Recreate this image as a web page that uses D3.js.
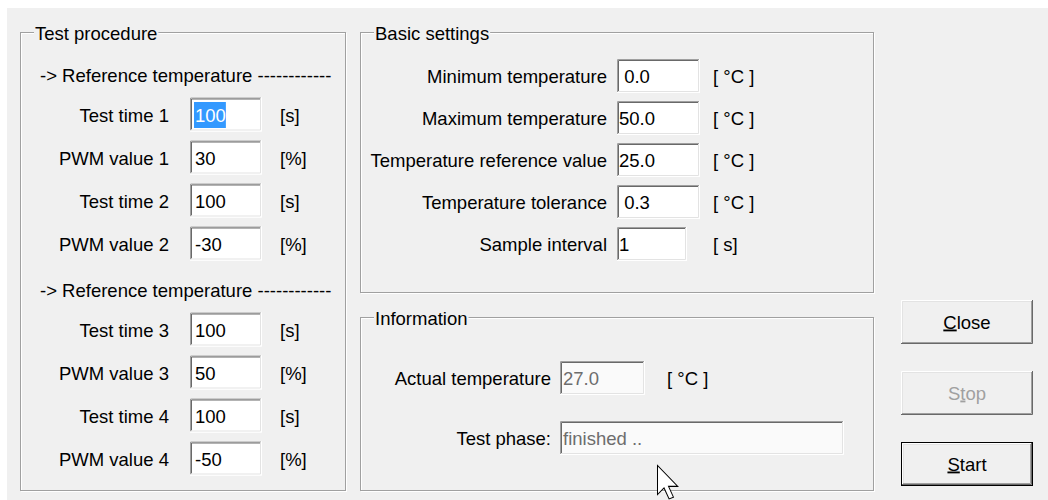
<!DOCTYPE html>
<html>
<head>
<meta charset="utf-8">
<script src="https://cdn.jsdelivr.net/npm/d3@7"></script>
<style>
  body { margin: 0; background: #fff; }
  text { font-family: "Liberation Sans", Arial, sans-serif; font-size: 18.5px; fill: #000; }
</style>
</head>
<body>
<div id="container"></div>
<script>
// dialog content
const procedureHeaders = ['-> Reference temperature ------------', '-> Reference temperature ------------'];
const procedureLabels = ['Test time 1', 'PWM value 1', 'Test time 2', 'PWM value 2', 'Test time 3', 'PWM value 3', 'Test time 4', 'PWM value 4'];
const procedureValues = ['100', '30', '100', '-30', '100', '50', '100', '-50'];
const procedureUnits = ['[s]', '[%]', '[s]', '[%]', '[s]', '[%]', '[s]', '[%]'];
const selectedField = 0;

const basicLabels = ['Minimum temperature', 'Maximum temperature', 'Temperature reference value', 'Temperature tolerance', 'Sample interval'];
const basicValues = [' 0.0', '50.0', '25.0', ' 0.3', '1'];
const basicUnits = ['[ °C ]', '[ °C ]', '[ °C ]', '[ °C ]', '[ s]'];

const infoLabels = ['Actual temperature', 'Test phase:'];
const infoValues = ['27.0', 'finished ..'];
const infoUnits = ['[ °C ]', ''];

const buttonLabels = ['Close', 'Stop', 'Start'];
const buttonMnemonic = [0, 1, 0];
const buttonEnabled = [true, false, true];
const defaultButton = 2;

const width = 1048;
const height = 500;
const bg = '#f0f0f0';

const svg = d3.select('#container')
  .append('svg')
  .attr('width', width)
  .attr('height', height);

svg.append('rect')
  .attr('x', 7).attr('y', 8)
  .attr('width', width - 7).attr('height', height - 8)
  .attr('fill', bg);

function line(g, d, color) {
  g.append('path').attr('d', d).attr('fill', 'none')
    .attr('stroke', color).attr('stroke-width', 1);
}

// keep leading blanks of edit-box values visible
function label(g, x, cy, str, anchor, color) {
  return g.append('text')
    .attr('x', x).attr('y', cy + 6.5)
    .attr('text-anchor', anchor || 'start')
    .style('fill', color || '#000')
    .text(str.replace(/ /g, '\u00a0'));
}

function sunken(g, x, y, w, h, fill) {
  g.append('rect').attr('x', x).attr('y', y).attr('width', w).attr('height', h).attr('fill', fill);
  line(g, `M${x + 0.5},${y + h - 1} V${y + 0.5} H${x + w - 1}`, '#a0a0a0');
  line(g, `M${x + 1.5},${y + h - 2} V${y + 1.5} H${x + w - 2}`, '#696969');
  line(g, `M${x},${y + h - 0.5} H${x + w - 0.5} V${y}`, '#ffffff');
  line(g, `M${x + 1},${y + h - 1.5} H${x + w - 1.5} V${y + 1}`, '#e3e3e3');
}

function raised(g, x, y, w, h, isDefault) {
  g.append('rect').attr('x', x).attr('y', y).attr('width', w).attr('height', h).attr('fill', bg);
  if (isDefault) {
    g.append('rect').attr('x', x + 0.5).attr('y', y + 0.5).attr('width', w - 1).attr('height', h - 1)
      .attr('fill', 'none').attr('stroke', '#000');
    x += 1; y += 1; w -= 2; h -= 2;
  }
  line(g, `M${x + 0.5},${y + h - 1} V${y + 0.5} H${x + w - 1}`, '#ffffff');
  line(g, `M${x + 1.5},${y + h - 2} V${y + 1.5} H${x + w - 2}`, '#e3e3e3');
  line(g, `M${x},${y + h - 0.5} H${x + w - 0.5} V${y}`, '#696969');
  line(g, `M${x + 1},${y + h - 1.5} H${x + w - 1.5} V${y + 1}`, '#a0a0a0');
}

function groupBox(x, y, w, h, title) {
  const g = svg.append('g');
  g.append('rect').attr('x', x + 1.5).attr('y', y + 1.5).attr('width', w - 1).attr('height', h - 1)
    .attr('fill', 'none').attr('stroke', '#ffffff');
  g.append('rect').attr('x', x + 0.5).attr('y', y + 0.5).attr('width', w - 1).attr('height', h - 1)
    .attr('fill', 'none').attr('stroke', '#a0a0a0');
  const gap = g.append('rect').attr('y', y - 2).attr('height', 6).attr('fill', bg);
  const t = label(g, x + 15, y + 1, title);
  gap.attr('x', x + 14).attr('width', t.node().getComputedTextLength() + 2);
  return g;
}

// Test procedure
const gp = groupBox(20, 32, 326, 459, 'Test procedure');
const procKeys = ['h0', 0, 1, 2, 3, 'h1', 4, 5, 6, 7];
const procY = d3.scalePoint().domain(procKeys).range([72, 459]);

procedureHeaders.forEach((h, i) => label(gp, 40, procY('h' + i) + 3, h));

procedureLabels.forEach((lab, i) => {
  const cy = procY(i);
  label(gp, 169, cy, lab, 'end');
  sunken(gp, 190, cy - 17.5, 72, 34, '#fff');
  const t = label(gp, 195, cy, procedureValues[i]);
  if (i === selectedField) {
    const w = t.node().getComputedTextLength();
    gp.insert('rect', () => t.node())
      .attr('x', 194).attr('y', cy - 13).attr('width', w + 1).attr('height', 26)
      .attr('fill', '#3399ff');
    t.style('fill', '#fff');
  }
  label(gp, 280, cy, procedureUnits[i]);
});

// Basic settings
const gb = groupBox(360, 32, 514, 261, 'Basic settings');
const basicY = d3.scalePoint().domain(d3.range(basicLabels.length)).range([76, 244]);
basicLabels.forEach((lab, i) => {
  const cy = basicY(i);
  label(gb, 607, cy, lab, 'end');
  const w = basicUnits[i] === '[ s]' ? 70 : 83;
  sunken(gb, 617, cy - 17, w, 34, '#fff');
  label(gb, 619, cy, basicValues[i]);
  label(gb, 713, cy, basicUnits[i]);
});

// Information
const gi = groupBox(360, 317, 514, 174, 'Information');
const infoY = d3.scalePoint().domain(d3.range(infoLabels.length)).range([378, 438]);
infoLabels.forEach((lab, i) => {
  const cy = infoY(i);
  label(gi, 551, cy, lab, 'end');
  const w = i === 0 ? 85 : 284;
  sunken(gi, 560, cy - 17, w, 34, '#fafafa');
  label(gi, 563, cy, infoValues[i], 'start', '#6d6d6d');
  if (infoUnits[i]) label(gi, 667, cy, infoUnits[i]);
});

// buttons
const btnY = d3.scalePoint().domain(d3.range(buttonLabels.length)).range([300, 442]);
buttonLabels.forEach((b, i) => {
  const g = svg.append('g');
  const y = btnY(i);
  raised(g, 901, y, 132, 44, i === defaultButton);
  const t = g.append('text')
    .attr('x', 967).attr('y', y + 22 + 6.5)
    .attr('text-anchor', 'middle')
    .style('fill', buttonEnabled[i] ? '#000' : '#a0a0a0');
  const m = buttonMnemonic[i];
  t.append('tspan').text(b.slice(0, m));
  t.append('tspan').style('text-decoration', 'underline').text(b[m]);
  t.append('tspan').text(b.slice(m + 1));
});

// mouse pointer
svg.append('path')
  .attr('d', 'M0,0 L0,20 L4.5,15.5 L8,23 L11,21.8 L7.6,14.4 L14,14.4 Z')
  .attr('transform', 'translate(657.5,465.5) scale(1.45)')
  .attr('fill', '#fff')
  .attr('stroke', '#000')
  .attr('stroke-width', 0.7)
  .attr('stroke-linejoin', 'miter');
</script>
</body>
</html>
